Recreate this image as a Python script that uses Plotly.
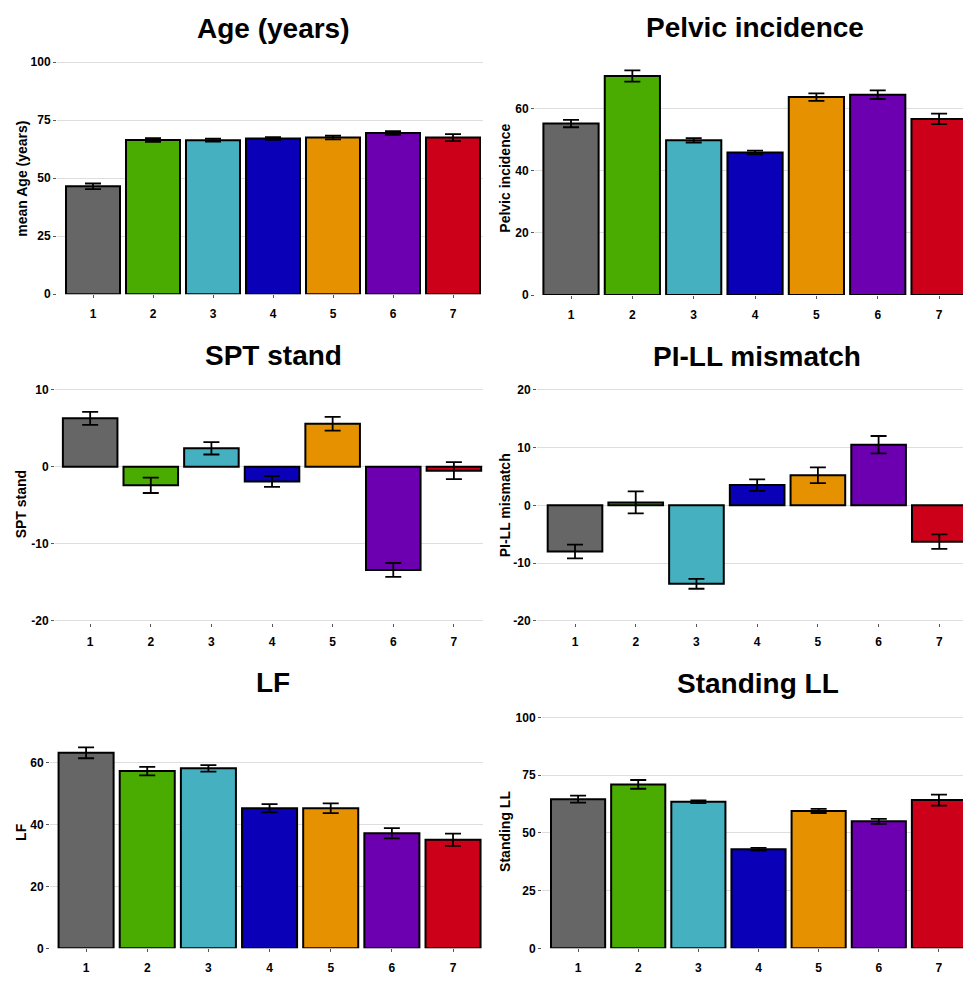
import plotly.graph_objects as go

W, H = 963, 981

clusters = [1, 2, 3, 4, 5, 6, 7]
tick_labels = ["1", "2", "3", "4", "5", "6", "7"]
colors = ["#666666", "#4aab00", "#45b0bf", "#0a00b8", "#e69200", "#6c00b0", "#cc0018"]

age_mean = [46.5, 66.5, 66.4, 67.1, 67.5, 69.5, 67.5]
age_err = [1.2, 0.8, 0.6, 0.6, 0.8, 0.8, 1.5]

pi_mean = [55.2, 70.5, 49.8, 45.9, 63.7, 64.5, 56.7]
pi_err = [1.2, 1.8, 0.7, 0.6, 1.2, 1.4, 1.7]

spt_mean = [6.3, -2.4, 2.4, -1.9, 5.6, -13.4, -0.5]
spt_err = [0.85, 1.0, 0.8, 0.7, 0.9, 0.9, 1.1]

pill_mean = [-8.0, 0.5, -13.6, 3.5, 5.2, 10.5, -6.3]
pill_err = [1.2, 1.9, 0.85, 1.0, 1.35, 1.5, 1.25]

lf_mean = [63.2, 57.3, 58.2, 45.3, 45.3, 37.2, 35.1]
lf_err = [1.75, 1.4, 1.05, 1.3, 1.6, 1.65, 2.0]

sll_mean = [64.6, 71.0, 63.5, 42.9, 59.5, 55.0, 64.2]
sll_err = [1.5, 1.9, 0.6, 0.6, 0.9, 1.1, 2.4]

panels = [
    dict(title="Age (years)", ylab="mean Age (years)", m=age_mean, e=age_err,
         xr=[0.4, 7.5], xpx=(57, 483), yr=[0, 100.5], ypx=(55.8, 292),
         ticks=[0, 25, 50, 75, 100], tpos=(273, 23), lpos=(22, 175)),
    dict(title="Pelvic incidence", ylab="Pelvic incidence", m=pi_mean, e=pi_err,
         xr=[0.413, 7.39], xpx=(535, 963), yr=[0, 75], ypx=(56.75, 293),
         ticks=[0, 20, 40, 60], tpos=(755, 22), lpos=(505, 175)),
    dict(title="SPT stand", ylab="SPT stand", m=spt_mean, e=spt_err,
         xr=[0.42, 7.48], xpx=(55, 483), yr=[-20.3, 10.3], ypx=(386.7, 625.3),
         ticks=[-20, -10, 0, 10], tpos=(273, 354), lpos=(21, 505)),
    dict(title="PI-LL mismatch", ylab="PI-LL mismatch", m=pill_mean, e=pill_err,
         xr=[0.374, 7.39], xpx=(537, 963), yr=[-20.3, 20.3], ypx=(387.2, 624.8),
         ticks=[-20, -10, 0, 10, 20], tpos=(757, 355), lpos=(505, 506)),
    dict(title="LF", ylab="LF", m=lf_mean, e=lf_err,
         xr=[0.41, 7.49], xpx=(50, 483), yr=[0, 75], ypx=(719.9, 955),
         ticks=[0, 20, 40, 60], tpos=(273, 686), lpos=(21, 837)),
    dict(title="Standing LL", ylab="Standing LL", m=sll_mean, e=sll_err,
         xr=[0.40, 7.40], xpx=(542, 963), yr=[0, 100.5], ypx=(719.8, 955),
         ticks=[0, 25, 50, 75, 100], tpos=(758, 687), lpos=(505, 837)),
]

FONT = "Liberation Sans, Arial, Helvetica, sans-serif"
fig = go.Figure()
annotations = []
layout = dict(
    width=W, height=H, margin=dict(l=0, r=0, t=0, b=0),
    paper_bgcolor="white", plot_bgcolor="white", showlegend=False,
    font=dict(family=FONT, color="black"),
)

for i, p in enumerate(panels):
    n = "" if i == 0 else str(i + 1)
    fig.add_trace(go.Bar(
        x=clusters, y=p["m"], width=0.9,
        marker=dict(color=colors, line=dict(color="black", width=2)),
        error_y=dict(type="data", array=p["e"], color="black", thickness=1.8, width=8),
        xaxis="x" + n, yaxis="y" + n, hoverinfo="skip",
    ))
    layout["xaxis" + n] = dict(
        domain=[p["xpx"][0] / W, p["xpx"][1] / W], range=p["xr"],
        anchor="y" + n, tickvals=clusters, ticktext=tick_labels,
        showgrid=False, zeroline=False, showline=False,
        ticks="outside", ticklen=3, tickcolor="#555555", tickwidth=1,
        ticklabelstandoff=5,
        tickfont=dict(family=FONT, size=12, color="black", weight="bold"),
    )
    layout["yaxis" + n] = dict(
        domain=[1 - p["ypx"][1] / H, 1 - p["ypx"][0] / H], range=p["yr"],
        anchor="x" + n, tickvals=p["ticks"], ticktext=[str(v) for v in p["ticks"]],
        showgrid=True, gridcolor="#dedede", gridwidth=1,
        zeroline=False, showline=False,
        ticks="outside", ticklen=3, tickcolor="#555555", tickwidth=1,
        tickfont=dict(family=FONT, size=12, color="black", weight="bold"),
    )
    annotations.append(dict(
        text="<b>%s</b>" % p["title"], xref="paper", yref="paper",
        x=p["tpos"][0] / W, y=1 - p["tpos"][1] / H, xanchor="center", yanchor="middle",
        showarrow=False, font=dict(family=FONT, size=28, color="black"),
    ))
    annotations.append(dict(
        text="<b>%s</b>" % p["ylab"], xref="paper", yref="paper",
        x=p["lpos"][0] / W, y=1 - p["lpos"][1] / H, xanchor="center", yanchor="middle",
        textangle=-90, showarrow=False, font=dict(family=FONT, size=14, color="black"),
    ))

layout["annotations"] = annotations
fig.update_layout(**layout)
fig.write_html("out.html")
